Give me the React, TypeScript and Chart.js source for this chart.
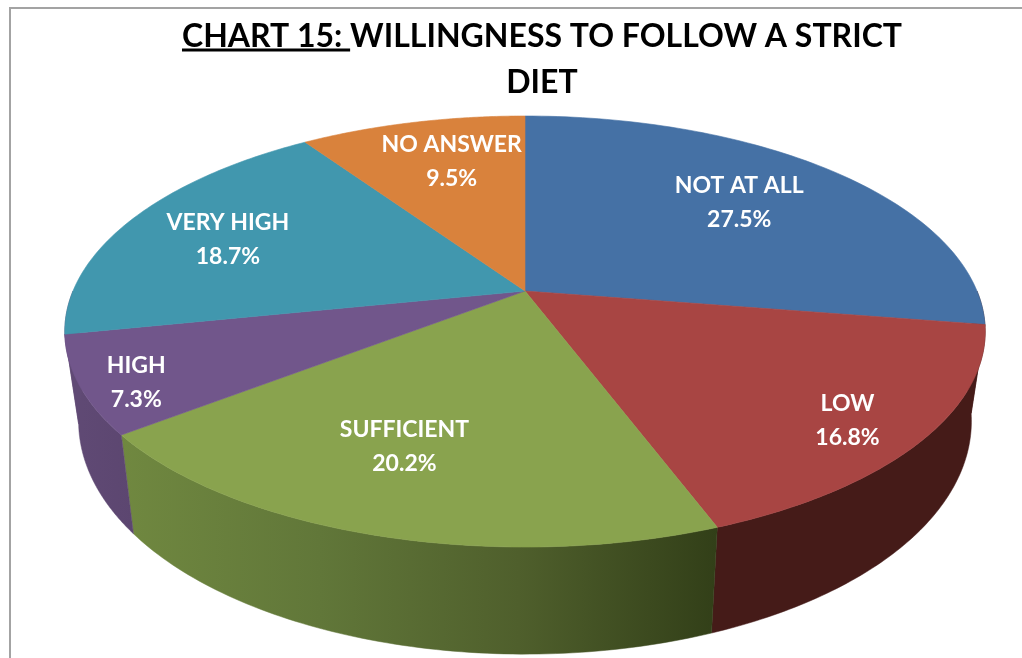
import React, { useEffect, useRef } from "react";
import { Chart, registerables, ArcElement, PieController } from "chart.js";

const categories = ["NOT AT ALL", "LOW", "SUFFICIENT", "HIGH", "VERY HIGH", "NO ANSWER"];
const shares = [27.5, 16.8, 20.2, 7.3, 18.7, 9.5];
const topColors = ["#4571A5", "#A84543", "#89A34E", "#71568B", "#4197AE", "#D9823C"];
const sideStops = [
  ["#451b18", "#451b18"],
  ["#451b18", "#451b18"],
  ["#708840", "#617739", "#4f5f2c", "#323f18"],
  ["#604a75", "#5c4670"],
  ["#604a75", "#604a75"],
  ["#604a75", "#604a75"],
];
const titleLines = ["CHART 15: WILLINGNESS TO FOLLOW A STRICT", "DIET"];
const underlinedPrefix = "CHART 15: ";
const labelRadius = [0.7, 0.845, 0.69, 0.89, 0.74, 0.74];
const labelAngleShiftDeg = [-2, 1.6, 4, -2, -1, 2.7];

// Perspective view of the flat pie
const view = { cx: 525, cy: 291, A: 452, a: 207.9, k: -0.188, xShrink: 0.97, depth: 85.5, depthV: 21.6 };

function rimTop(theta: number, r = 1) {
  const u = r * Math.cos(theta);
  const v = r * Math.sin(theta);
  const w = 1 + view.k * v;
  return { x: view.cx + (view.A * u) / w, y: view.cy + (view.a * v) / w, v };
}
function rimBottom(theta: number) {
  const p = rimTop(theta);
  return { x: view.cx + view.xShrink * (p.x - view.cx), y: p.y + view.depth + view.depthV * p.v };
}

class PerspectiveArc extends ArcElement {
  static id = "perspectiveArc";
  static defaults = { ...ArcElement.defaults };
  draw(ctx: CanvasRenderingContext2D) {
    const { startAngle, endAngle } = this.getProps(["startAngle", "endAngle"], true) as any;
    const color = (this as any).options.backgroundColor;
    ctx.save();
    ctx.beginPath();
    ctx.moveTo(view.cx, view.cy);
    const n = 80;
    for (let i = 0; i <= n; i++) {
      const p = rimTop(startAngle + ((endAngle - startAngle) * i) / n);
      ctx.lineTo(p.x, p.y);
    }
    ctx.closePath();
    ctx.fillStyle = color;
    ctx.strokeStyle = color;
    ctx.lineWidth = 0.6;
    ctx.fill();
    ctx.stroke();
    ctx.restore();
  }
}

class Pie3DController extends PieController {
  static id = "pie3d";
  static defaults = { ...PieController.defaults, dataElementType: "perspectiveArc" };
}

const sidesPlugin = {
  id: "sides",
  beforeDatasetsDraw(chart: any) {
    const ctx: CanvasRenderingContext2D = chart.ctx;
    chart.getDatasetMeta(0).data.forEach((el: any, i: number) => {
      const { startAngle, endAngle } = el.getProps(["startAngle", "endAngle"], true);
      const from = Math.max(startAngle, 0);
      const to = Math.min(endAngle, Math.PI);
      if (to <= from) return;
      const n = 80;
      ctx.save();
      ctx.beginPath();
      const top: any[] = [];
      const bottom: any[] = [];
      for (let s = 0; s <= n; s++) {
        const t = from + ((to - from) * s) / n;
        top.push(rimTop(t));
        bottom.push(rimBottom(t));
      }
      top.forEach((p, s) => (s ? ctx.lineTo(p.x, p.y) : ctx.moveTo(p.x, p.y)));
      bottom.reverse().forEach((p) => ctx.lineTo(p.x, p.y));
      ctx.closePath();
      const xs = [...top, ...bottom].map((p) => p.x);
      const g = ctx.createLinearGradient(Math.min(...xs), 0, Math.max(...xs), 0);
      // stops are listed left to right on the page
      sideStops[i].forEach((c, j, arr) => g.addColorStop(j / (arr.length - 1), c));
      ctx.fillStyle = g;
      ctx.strokeStyle = sideStops[i][0] === sideStops[i][1] ? sideStops[i][0] : g;
      ctx.lineWidth = 0.5;
      ctx.fill();
      ctx.stroke();
      ctx.restore();
    });
  },
};

const labelsPlugin = {
  id: "sliceLabels",
  afterDatasetsDraw(chart: any) {
    const ctx: CanvasRenderingContext2D = chart.ctx;
    ctx.save();
    ctx.fillStyle = "#ffffff";
    ctx.font = "bold 23px Lato";
    ctx.textAlign = "center";
    ctx.textBaseline = "middle";
    chart.getDatasetMeta(0).data.forEach((el: any, i: number) => {
      const { startAngle, endAngle } = el.getProps(["startAngle", "endAngle"], true);
      const mid = (startAngle + endAngle) / 2 + (labelAngleShiftDeg[i] * Math.PI) / 180;
      const p = rimTop(mid, labelRadius[i]);
      ctx.fillText(categories[i], p.x, p.y - 15.5);
      ctx.fillText(shares[i].toFixed(1) + "%", p.x, p.y + 18.5);
    });
    ctx.restore();
  },
};

const framePlugin = {
  id: "frame",
  beforeDraw(chart: any) {
    const ctx: CanvasRenderingContext2D = chart.ctx;
    ctx.save();
    ctx.fillStyle = "#ffffff";
    ctx.fillRect(0, 0, chart.width, chart.height);
    ctx.strokeStyle = "#a3a3a3";
    ctx.lineWidth = 2;
    ctx.beginPath();
    ctx.moveTo(10, chart.height);
    ctx.lineTo(10, 8);
    ctx.lineTo(chart.width, 8);
    ctx.stroke();
    ctx.restore();
  },
  afterDraw(chart: any) {
    // underline the "CHART 15:" part of the title
    const ctx: CanvasRenderingContext2D = chart.ctx;
    const t = chart.titleBlock;
    ctx.save();
    ctx.font = "bold 32px Lato";
    const total = ctx.measureText(titleLines[0]).width;
    const pre = ctx.measureText(underlinedPrefix).width;
    const center = (t.left + t.right) / 2;
    const x0 = center - total / 2;
    ctx.fillStyle = "#000000";
    ctx.fillRect(x0, t.top + 48.5, pre, 3);
    ctx.restore();
  },
};

Chart.register(...registerables, PerspectiveArc, Pie3DController);

export default function App() {
  const ref = useRef<HTMLCanvasElement>(null);
  useEffect(() => {
    const chart = new Chart(ref.current!, {
      type: "pie3d" as any,
      data: {
        labels: categories,
        datasets: [{ data: shares, backgroundColor: topColors, borderWidth: 0 }],
      },
      options: {
        animation: false,
        responsive: false,
        cutout: 0,
        layout: { padding: { left: 62, top: 0 } },
        plugins: {
          legend: { display: false },
          tooltip: { enabled: false },
          title: {
            display: true,
            text: titleLines,
            color: "#000000",
            font: { family: "Lato", size: 32, weight: "bold", lineHeight: 1.44 },
            padding: { top: 14, bottom: 4 },
          },
        },
      } as any,
      plugins: [framePlugin, sidesPlugin, labelsPlugin],
    });
    return () => chart.destroy();
  }, []);
  return (
    <canvas
      ref={ref}
      width={1022}
      height={658}
      style={{ position: "fixed", left: 0, top: 0, display: "block", width: 1022, height: 658 }}
    />
  );
}
